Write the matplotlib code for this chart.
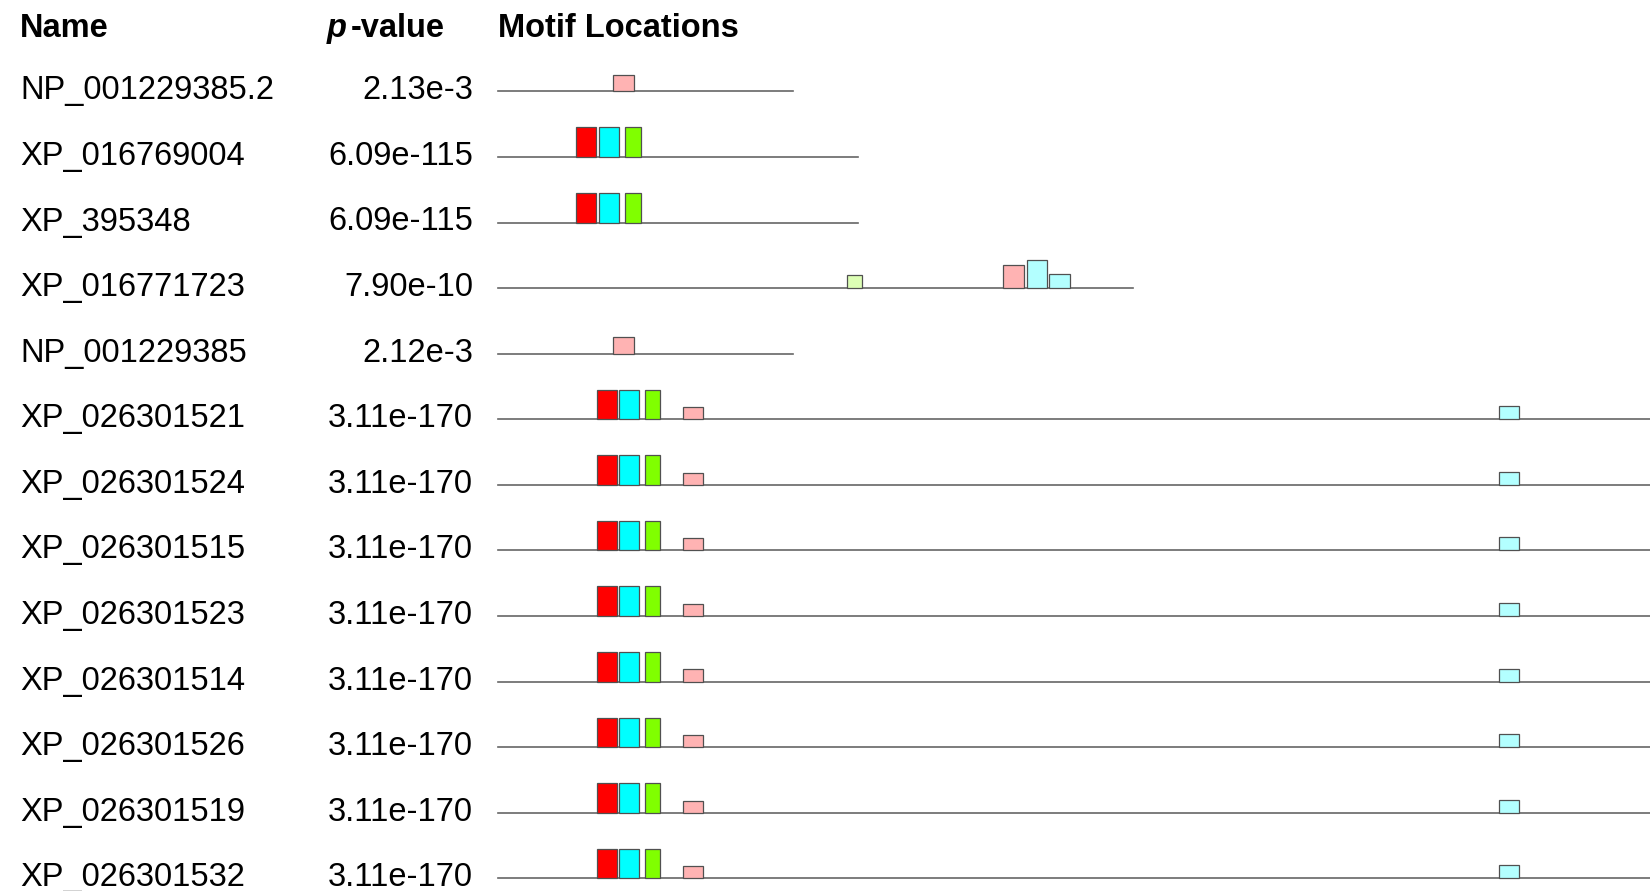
import matplotlib.pyplot as plt
from matplotlib.patches import Rectangle

# sequence names and combined p-values
names = ['NP_001229385.2', 'XP_016769004', 'XP_395348', 'XP_016771723',
         'NP_001229385', 'XP_026301521', 'XP_026301524', 'XP_026301515',
         'XP_026301523', 'XP_026301514', 'XP_026301526', 'XP_026301519',
         'XP_026301532']
pvalues = ['2.13e-3', '6.09e-115', '6.09e-115', '7.90e-10', '2.12e-3',
           '3.11e-170', '3.11e-170', '3.11e-170', '3.11e-170', '3.11e-170',
           '3.11e-170', '3.11e-170', '3.11e-170']

# sequence lengths (drawing units); the long ones run past the right edge
seq_lengths = [295, 360, 360, 635, 295, 1300, 1300, 1300, 1300, 1300, 1300, 1300, 1300]

# motif hits: (start, end, motif, score height)
long_hits = [(99, 119, 'm1', 29.7), (121, 141, 'm2', 29.7), (147, 162, 'm3', 29.7),
             (185, 205, 'm4', 12.3), (1001, 1021, 'm5', 13)]
hits = [
    [(115, 136, 'm4', 16.6)],
    [(78, 98, 'm1', 30), (101, 121, 'm2', 30), (127, 143, 'm3', 30)],
    [(78, 98, 'm1', 30), (101, 121, 'm2', 30), (127, 143, 'm3', 30)],
    [(349, 364, 'm6', 13.3), (505, 526, 'm4', 23.3), (529, 549, 'm5', 28),
     (551, 572, 'm5', 13.7)],
    [(115, 136, 'm4', 16.6)],
] + [long_hits] * 8

motif_colors = {'m1': '#ff0000', 'm2': '#00ffff', 'm3': '#80ff00',
                'm4': '#ffb3b3', 'm5': '#b3ffff', 'm6': '#ddffb5'}

plt.rcParams['font.family'] = ['Liberation Sans', 'DejaVu Sans']
fs = 23.5

fig = plt.figure(figsize=(16.5, 8.91), dpi=100)
ax = fig.add_axes([0, 0, 1, 1])
ax.set_xlim(0, 1650)
ax.set_ylim(891, 0)
ax.axis('off')

x0 = 498        # where the motif track starts
y0 = 91.3       # first row baseline
step = 65.6     # row spacing

# header
ax.text(20, 37, 'Name', fontsize=fs, fontweight='bold')
ax.text(347, 37, 'p', fontsize=fs, fontweight='bold', fontstyle='italic', ha='right')
ax.text(351, 37, '-value', fontsize=fs, fontweight='bold')
ax.text(x0, 37, 'Motif Locations', fontsize=fs, fontweight='bold')

for i, (name, pv, length, row_hits) in enumerate(zip(names, pvalues, seq_lengths, hits)):
    y = y0 + i * step
    ax.text(20, y + 8, name, fontsize=fs)
    ax.text(473, y + 8, pv, fontsize=fs, ha='right')
    ax.plot([x0, x0 + length], [y, y], color='#666666', lw=1.2, zorder=1)
    for start, end, motif, h in row_hits:
        ax.add_patch(Rectangle((x0 + start, y - h), end - start, h,
                               facecolor=motif_colors[motif], edgecolor='#505050',
                               lw=0.9, zorder=2))

fig.savefig('out.png', dpi=100)
